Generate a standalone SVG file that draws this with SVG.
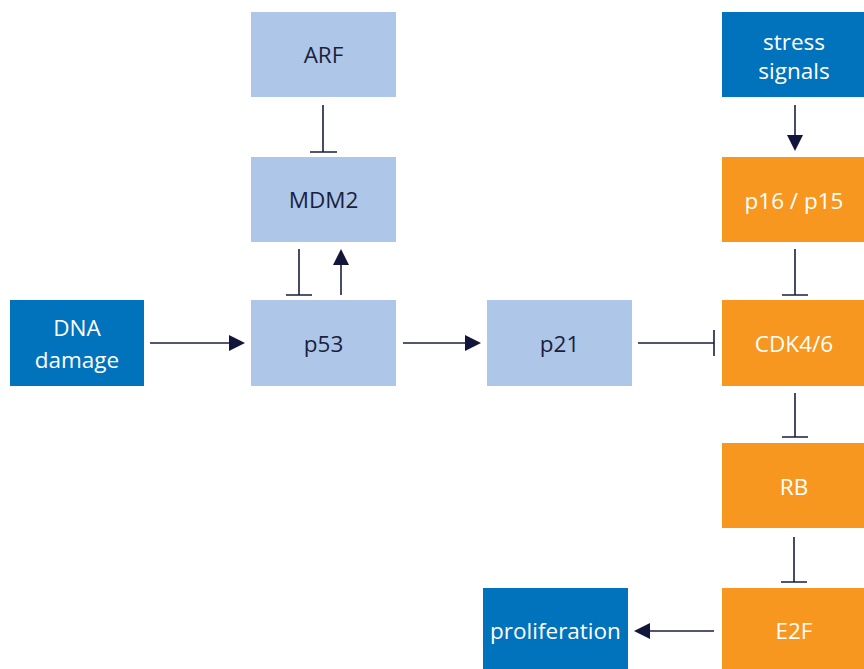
<svg xmlns="http://www.w3.org/2000/svg" width="864" height="669" viewBox="0 0 864 669">
<style>
.lb{fill:#aec6e7}
.db{fill:#0172bc}
.or{fill:#f7971f}
text{font-family:"Open Sans","Noto Sans",sans-serif;font-size:22.5px;text-anchor:middle;dominant-baseline:central}
.dk{fill:#1a1f3d}
.wt{fill:#ffffff}
.ln{stroke:#1a1f3d;stroke-width:1.6;fill:none}
.hd{fill:#12163a}
</style>
<rect width="864" height="669" fill="#ffffff"/>
<g id="ARF"><rect class="lb" x="251" y="12" width="145" height="85"/><text class="dk" x="323.5" y="54.5">ARF</text></g>
<g id="MDM2"><rect class="lb" x="251" y="157" width="145" height="85"/><text class="dk" x="323.5" y="199.5">MDM2</text></g>
<g id="p53"><rect class="lb" x="251" y="300" width="145" height="86"/><text class="dk" x="323.5" y="343">p53</text></g>
<g id="DNA"><rect class="db" x="10" y="300" width="134" height="86"/><text class="wt" x="77" y="327">DNA</text><text class="wt" x="77" y="359">damage</text></g>
<g id="p21"><rect class="lb" x="487" y="300" width="145" height="86"/><text class="dk" x="559.5" y="343">p21</text></g>
<g id="stress"><rect class="db" x="722" y="12" width="142" height="85"/><text class="wt" x="794" y="41">stress</text><text class="wt" x="794" y="70">signals</text></g>
<g id="p16"><rect class="or" x="722" y="157" width="142" height="85"/><text class="wt" x="794" y="200">p16 / p15</text></g>
<g id="CDK"><rect class="or" x="722" y="300" width="142" height="86"/><text class="wt" x="794" y="343">CDK4/6</text></g>
<g id="RB"><rect class="or" x="722" y="443" width="142" height="85"/><text class="wt" x="794" y="486">RB</text></g>
<g id="E2F"><rect class="or" x="722" y="588" width="142" height="81"/><text class="wt" x="794" y="630">E2F</text></g>
<g id="proliferation"><rect class="db" x="483" y="588" width="145" height="81"/><text class="wt" x="555.5" y="630">proliferation</text></g>
<g id="connectors">
<path class="ln" d="M323 105V152M310 152H337"/>
<path class="ln" d="M299 249V295M286 295H312"/>
<path class="ln" d="M341 295V262"/><path class="hd" d="M341 249L333 265H349Z"/>
<path class="ln" d="M150 343H232"/><path class="hd" d="M245 343L229 335V351Z"/>
<path class="ln" d="M403 343H468"/><path class="hd" d="M481 343L465 335V351Z"/>
<path class="ln" d="M638 343H714M714 330V356"/>
<path class="ln" d="M795 105V138"/><path class="hd" d="M795 151L787 135H803Z"/>
<path class="ln" d="M795 249V295M782 295H808"/>
<path class="ln" d="M795 393V437M782 437H808"/>
<path class="ln" d="M794 537V582M781 582H807"/>
<path class="ln" d="M714 631H647"/><path class="hd" d="M634 631L650 623V639Z"/>
</g>
</svg>
